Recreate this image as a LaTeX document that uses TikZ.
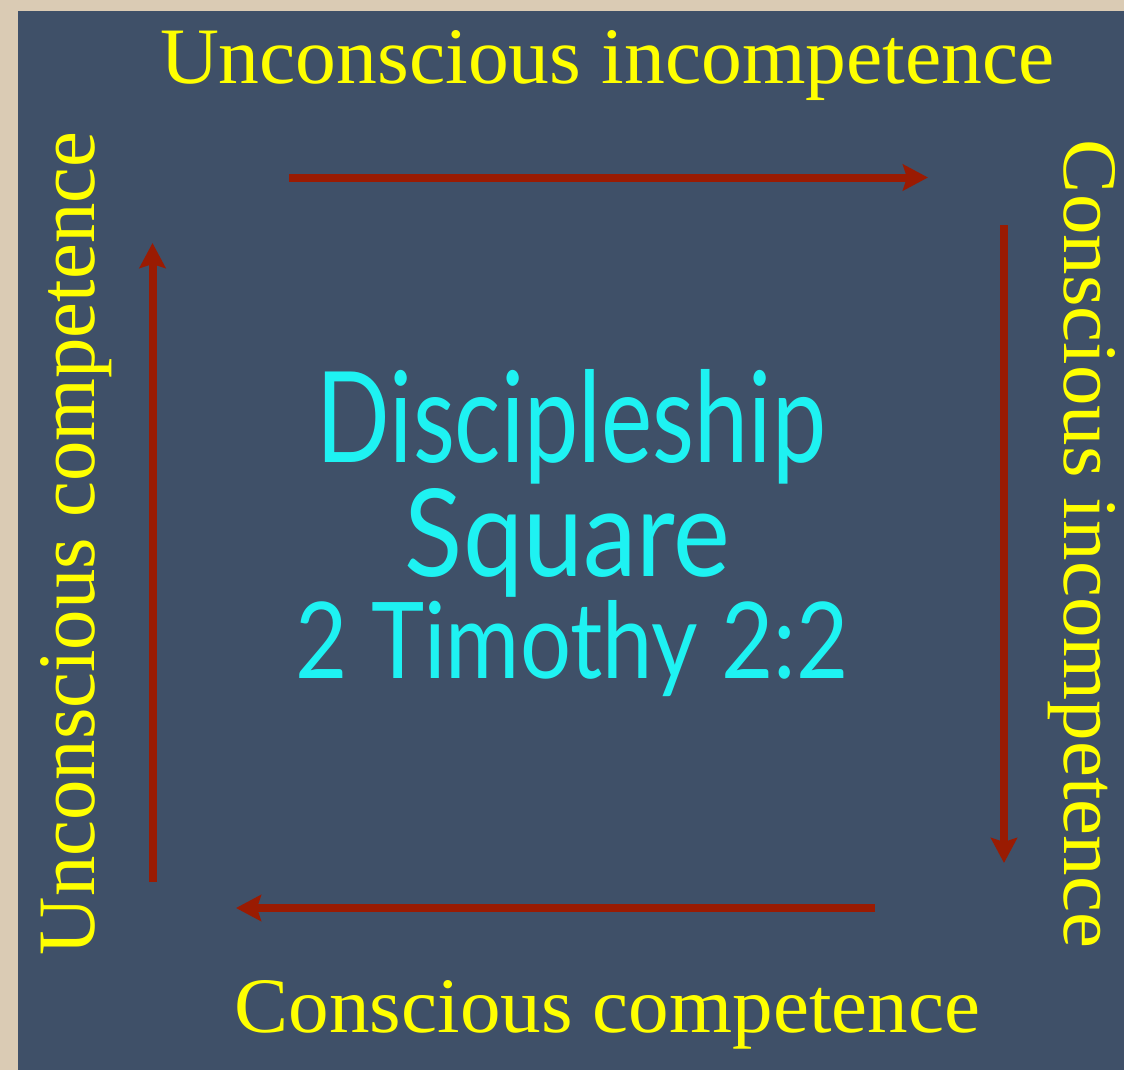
\documentclass[tikz,border=0pt]{standalone}
\usepackage{fontspec}
\setmainfont{Liberation Serif}
\newfontfamily\papfont{Lato}
\usetikzlibrary{arrows.meta}
\definecolor{beige}{HTML}{DACBB4}
\definecolor{panel}{HTML}{3F5068}
\definecolor{lbl}{HTML}{FFFF00}
\definecolor{arr}{HTML}{9A1B02}
\definecolor{cyanT}{HTML}{1EF2F2}
\tikzset{
  sidelbl/.style={inner sep=0pt, anchor=base, text=lbl},
  ctrlbl/.style={inner sep=0pt, anchor=base, text=cyanT},
  flow/.style={draw=arr, line width=8pt, -{Stealth[length=25pt,width=26pt,inset=4pt]}}
}
\begin{document}
\begin{tikzpicture}[x=1pt,y=-1pt]
\useasboundingbox (0,0) rectangle (1124,1070);
\fill[beige] (0,0) rectangle (1124,1070);
\fill[panel] (18,11) rectangle (1124,1070);

\node[sidelbl] (top) at (607.5,84) {\resizebox{895pt}{53pt}{Unconscious incompetence}};
\node[sidelbl] (bot) at (607.5,1032) {\resizebox{745pt}{52pt}{Conscious competence}};
\node[sidelbl, rotate=90] (lft) at (94,543.5) {\resizebox{823pt}{54pt}{Unconscious competence}};
\node[sidelbl, rotate=-90] (rgt) at (1064,544) {\resizebox{808pt}{51pt}{Conscious incompetence}};

\node[ctrlbl] (l1) at (571.5,462) {\resizebox{509pt}{93pt}{\papfont Discipleship}};
\node[ctrlbl] (l2) at (567.5,576) {\resizebox{325pt}{88pt}{\papfont Square}};
\node[ctrlbl] (l3) at (572,678) {\resizebox{552pt}{78pt}{\papfont 2 Timothy 2:2}};

\coordinate (a1) at (289,177.5);
\coordinate (a2) at (928,177.5);
\coordinate (b1) at (1004,225);
\coordinate (b2) at (1004,863);
\coordinate (c1) at (875,908);
\coordinate (c2) at (236,908);
\coordinate (d1) at (152.5,882);
\coordinate (d2) at (152.5,243);
\draw[flow] (a1) -- (a2);
\draw[flow] (b1) -- (b2);
\draw[flow] (c1) -- (c2);
\draw[flow] (d1) -- (d2);
\end{tikzpicture}
\end{document}
